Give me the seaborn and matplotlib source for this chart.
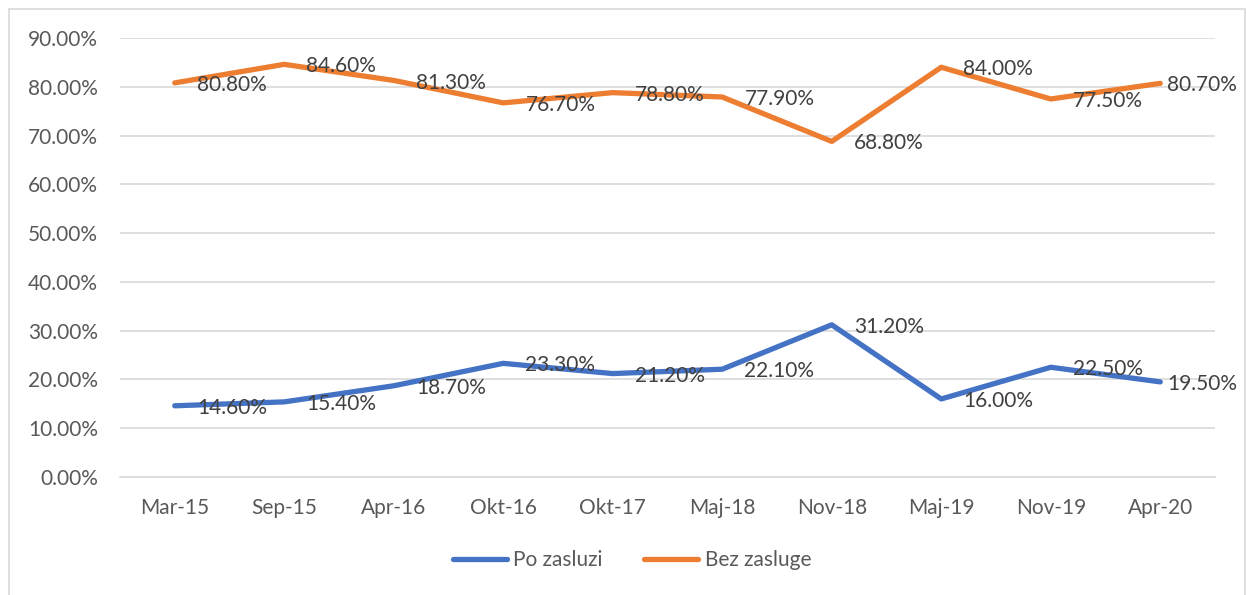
import matplotlib
matplotlib.use("Agg")
import matplotlib.pyplot as plt
import seaborn as sns
import pandas as pd
import numpy as np
from matplotlib.patches import Rectangle
from matplotlib.lines import Line2D

categories = ["Mar-15", "Sep-15", "Apr-16", "Okt-16", "Okt-17", "Maj-18", "Nov-18", "Maj-19", "Nov-19", "Apr-20"]
po_zasluzi = [14.6, 15.4, 18.7, 23.3, 21.2, 22.1, 31.2, 16.0, 22.5, 19.5]
bez_zasluge = [80.8, 84.6, 81.3, 76.7, 78.8, 77.9, 68.8, 84.0, 77.5, 80.7]
series_names = ["Po zasluzi", "Bez zasluge"]
y_ticks = [0, 10, 20, 30, 40, 50, 60, 70, 80, 90]

sns.set_theme(style="white")
plt.rcParams["font.family"] = ["Lato", "DejaVu Sans"]

df = pd.DataFrame({
    "pos": list(range(len(categories))) * 2,
    "value": po_zasluzi + bez_zasluge,
    "series": [series_names[0]] * len(categories) + [series_names[1]] * len(categories),
})

colors = {"Po zasluzi": "#4472C4", "Bez zasluge": "#ED7D31"}

fig = plt.figure(figsize=(12.46, 5.95), dpi=100)
ax = fig.add_axes([120 / 1246, 1 - 477 / 595, (1215 - 120) / 1246, (477 - 38) / 595])

sns.lineplot(data=df, x="pos", y="value", hue="series", palette=colors, ax=ax,
             linewidth=3.8, legend=False, solid_capstyle="round", solid_joinstyle="round")

fs = 15
ax.set_xlim(-0.5, len(categories) - 0.5)
ax.set_ylim(0, 90)
ax.set_yticks(y_ticks)
ax.set_yticklabels([f"{v:.2f}%" for v in y_ticks], color="#595959", fontsize=fs)
ax.set_xticks(range(len(categories)))
ax.set_xticklabels(categories, color="#595959", fontsize=fs)
ax.set_xticks(np.arange(-0.5, len(categories), 1.0), minor=True)
ax.tick_params(axis="x", which="major", length=0, pad=15)
ax.tick_params(axis="x", which="minor", length=7, color="#D9D9D9", width=1.2)
ax.tick_params(axis="y", length=0, pad=16)
ax.set_xlabel("")
ax.set_ylabel("")
ax.grid(axis="y", color="#D9D9D9", linewidth=1.2)
ax.set_axisbelow(True)
for s in ["top", "right", "left"]:
    ax.spines[s].set_visible(False)
ax.spines["bottom"].set_color("#D9D9D9")
ax.spines["bottom"].set_linewidth(1.2)

n = len(categories)
for vals in (po_zasluzi, bez_zasluge):
    for i, v in enumerate(vals):
        dx = 16 if i < n - 1 else 5
        ax.annotate(f"{v:.2f}%", (i, v), xytext=(dx, -1.5), textcoords="offset points",
                    ha="left", va="center", fontsize=fs, color="#404040")

handles = [Line2D([0], [0], color=colors[k], lw=3.8, solid_capstyle="round") for k in series_names]
fig.legend(handles, series_names, loc="center", bbox_to_anchor=(632 / 1246, 1 - 560 / 595),
           ncol=2, frameon=False, fontsize=fs, handlelength=2.6, columnspacing=2.0,
           handletextpad=0.3, labelcolor="#595959")

fig.patches.append(Rectangle((9 / 1246, -0.01), (1245 - 9) / 1246, 1 - 9 / 595 + 0.01,
                             transform=fig.transFigure, fill=False, edgecolor="#D9D9D9", linewidth=1.2))

fig.savefig("out.png", dpi=100)
